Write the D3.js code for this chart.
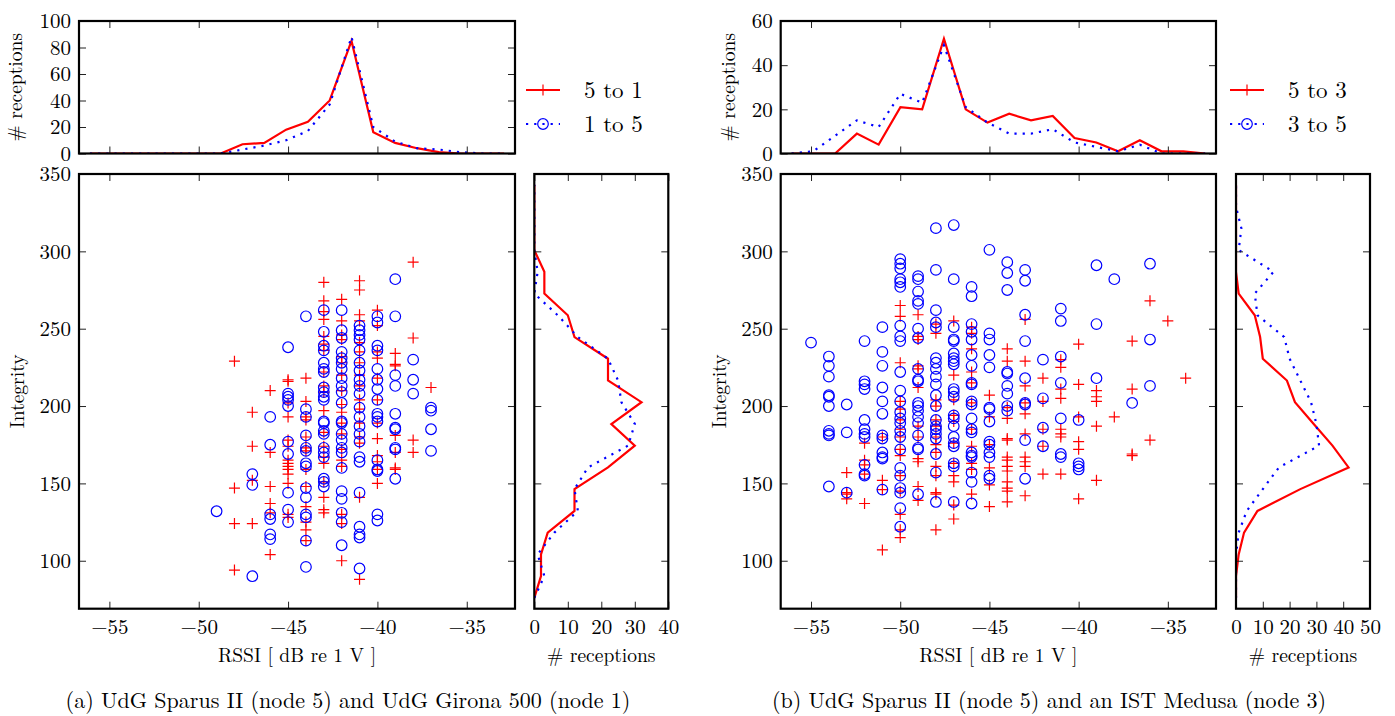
<!DOCTYPE html>
<html>
<head>
<meta charset="utf-8">
<script src="https://cdn.jsdelivr.net/npm/d3@7"></script>
<style>
  body { margin: 0; background: #fff; }
  text { font-family: "Latin Modern Roman", "Liberation Serif", serif; fill: #000; }
</style>
</head>
<body>
<svg id="fig" width="1395" height="716"></svg>
<script>
// ---- data ----
const rssiDomain = [-56.7, -32.3];
const integrityDomain = [69, 350];
const rssiTicks = [-55, -50, -45, -40, -35];
const integrityTicks = [100, 150, 200, 250, 300, 350];

// histogram bin centres (20 bins over each axis range)
const rssiBins = [-56.09, -54.87, -53.65, -52.43, -51.21, -49.99, -48.77, -47.55, -46.33, -45.11,
                  -43.89, -42.67, -41.45, -40.23, -39.01, -37.79, -36.57, -35.35, -34.13, -32.91];
const integrityBins = [76.0, 90.1, 104.1, 118.2, 132.2, 146.3, 160.3, 174.4, 188.4, 202.5,
                       216.5, 230.6, 244.6, 258.7, 272.7, 286.8, 300.8, 314.9, 328.9, 343.0];

// panel (a): 5 -> 1 (red) and 1 -> 5 (blue)
const histRssiA_5to1 = [0, 0, 0, 0, 0, 0, 0, 7, 8, 18, 24, 40, 85, 16, 8, 4, 1, 0, 0, 0];
const histRssiA_1to5 = [0, 0, 0, 0, 0, 0, 0, 3, 6, 10, 17, 37, 88, 20, 9, 4, 3, 1, 0, 0];
const histIntA_5to1 = [0, 2, 2, 4, 12, 12, 22, 30, 23, 32, 22, 22, 12, 10, 3, 3, 0, 0, 0, 0];
const histIntA_1to5 = [0, 3, 1, 6, 13, 12, 16, 28, 30, 26, 25, 22, 13, 7, 0, 1, 0, 0, 0, 0];

// scatter columns: [RSSI, [integrity values]]
const scatterA_5to1 = [
  [-48, [229, 147, 124, 94]],
  [-47, [196, 174, 152, 124]],
  [-46, [210, 170, 148, 137, 131, 104]],
  [-45, [217, 216, 202, 193, 178, 174, 165, 163, 161, 159, 156, 150, 130, 128]],
  [-44, [218, 203, 193, 191, 180, 173, 171, 159, 148, 135, 125, 120, 113]],
  [-43, [280, 268, 261, 256, 245, 240, 236, 222, 213, 209, 197, 183, 174, 167, 163, 151, 141, 133, 131]],
  [-42, [269, 255, 246, 243, 232, 228, 220, 210, 201, 196, 189, 182, 172, 165, 161, 130, 124, 100]],
  [-41, [281, 275, 259, 255, 241, 235, 228, 220, 213, 204, 198, 189, 180, 176, 141, 88]],
  [-40, [262, 252, 235, 231, 218, 204, 189, 179, 168, 164, 159, 150]],
  [-39, [234, 227, 226, 181, 170, 160, 159]],
  [-38, [293, 244, 178, 170]],
  [-37, [212]]
];
const scatterA_1to5 = [
  [-49, [132]],
  [-47, [156, 149, 90]],
  [-46, [193, 175, 130, 127, 117, 114]],
  [-45, [238, 208, 206, 204, 200, 177, 169, 144, 133, 125]],
  [-44, [258, 198, 193, 181, 173, 171, 163, 161, 147, 141, 130, 128, 113, 96]],
  [-43, [262, 248, 239, 236, 228, 224, 222, 212, 209, 206, 204, 190, 189, 184, 182, 173, 170, 167, 153, 151, 148]],
  [-42, [262, 249, 244, 235, 231, 228, 224, 218, 213, 209, 202, 190, 189, 182, 178, 173, 170, 160, 145, 140, 131, 125, 110]],
  [-41, [252, 249, 246, 243, 236, 228, 223, 217, 213, 208, 199, 193, 187, 182, 177, 167, 164, 144, 122, 117, 115, 95]],
  [-40, [258, 254, 239, 236, 224, 217, 211, 204, 195, 193, 190, 165, 159, 158, 130, 126]],
  [-39, [282, 258, 220, 213, 195, 186, 185, 173, 172, 153]],
  [-38, [230, 217, 208]],
  [-37, [199, 197, 185, 171]]
];

// panel (b): 5 -> 3 (red) and 3 -> 5 (blue)
const histRssiB_5to3 = [0, 0, 0, 9, 4, 21, 20, 52, 20, 14, 18, 15, 17, 7, 5, 1, 6, 1, 1, 0];
const histRssiB_3to5 = [0, 1, 8, 15, 12, 27, 23, 49, 21, 14, 9, 9, 11, 5, 3, 1, 4, 0, 0, 0];
const histIntB_5to3 = [0, 0, 1, 3, 8, 24, 42, 36, 29, 22, 19, 10, 9, 7, 1, 0, 0, 0, 0, 0];
const histIntB_3to5 = [0, 0, 0, 1, 4, 10, 16, 31, 30, 28, 24, 20, 18, 8, 7, 14, 1, 2, 0, 0];

const scatterB_5to3 = [
  [-53, [157, 144, 143, 140]],
  [-52, [176, 165, 162, 156, 137]],
  [-51, [180, 152, 146, 107]],
  [-50, [265, 258, 228, 203, 198, 191, 185, 180, 172, 168, 155, 145, 130, 120, 115]],
  [-49, [259, 245, 243, 226, 224, 212, 187, 180, 166, 164, 148, 139]],
  [-48, [253, 247, 204, 200, 191, 187, 180, 175, 170, 161, 155, 144, 143, 120]],
  [-47, [255, 220, 204, 194, 190, 176, 163, 155, 151, 136, 127]],
  [-46, [251, 247, 237, 222, 215, 202, 185, 174, 163, 159, 143]],
  [-45, [207, 193, 175, 160, 149, 135]],
  [-44, [237, 229, 199, 192, 179, 178, 167, 165, 161, 158, 151, 147, 145, 138]],
  [-43, [256, 229, 213, 202, 195, 182, 167, 164, 161, 142]],
  [-42, [218, 203, 185, 174, 156]],
  [-41, [230, 225, 211, 205, 185, 182, 180, 156]],
  [-40, [240, 214, 193, 177, 172, 140]],
  [-39, [210, 206, 203, 187, 152]],
  [-38, [193]],
  [-37, [242, 211, 169, 168]],
  [-36, [268, 178]],
  [-35, [255]],
  [-34, [218]]
];
const scatterB_3to5 = [
  [-55, [241]],
  [-54, [232, 226, 219, 207, 206, 200, 184, 182, 181, 148]],
  [-53, [201, 183, 144]],
  [-52, [242, 216, 214, 211, 191, 185, 182, 180, 162, 156, 155]],
  [-51, [251, 235, 226, 212, 203, 195, 181, 179, 170, 167, 166, 146]],
  [-50, [295, 292, 289, 282, 280, 277, 252, 245, 242, 222, 210, 203, 196, 192, 189, 184, 180, 172, 160, 155, 147, 144, 134, 122]],
  [-49, [284, 282, 274, 268, 266, 250, 244, 224, 217, 216, 202, 200, 197, 193, 189, 181, 173, 172, 143]],
  [-48, [315, 288, 262, 254, 251, 231, 228, 224, 219, 214, 207, 200, 191, 187, 185, 182, 179, 169, 157, 138]],
  [-47, [317, 282, 251, 243, 242, 234, 231, 229, 227, 211, 209, 206, 194, 192, 187, 180, 176, 174, 163, 161, 138]],
  [-46, [277, 271, 253, 248, 243, 233, 226, 215, 214, 203, 201, 192, 185, 183, 170, 168, 167, 157, 151, 137]],
  [-45, [301, 247, 243, 233, 225, 199, 198, 190, 177, 175, 170, 167, 155, 153]],
  [-44, [293, 286, 275, 222, 221, 213, 208, 200, 197]],
  [-43, [288, 281, 259, 242, 218, 202, 201, 178, 153]],
  [-42, [230, 205, 186, 174]],
  [-41, [263, 255, 232, 215, 192, 169, 167]],
  [-40, [191, 163, 161, 159]],
  [-39, [291, 253, 218]],
  [-38, [282]],
  [-37, [202]],
  [-36, [292, 243, 213]]
];

const legendA = ['5 to 1', '1 to 5'];
const legendB = ['5 to 3', '3 to 5'];
const captionA = '(a) UdG Sparus II (node 5) and UdG Girona 500 (node 1)';
const captionB = '(b) UdG Sparus II (node 5) and an IST Medusa (node 3)';

// ---- drawing ----
const RED = '#ff0000';
const BLUE = '#0000ff';
const svg = d3.select('#fig');

const tickLen = 7;
const tickFont = 21;
const labelFont = 19.5;

function styleAxis(g) {
    g.select('.domain').remove();
    g.selectAll('.tick line').attr('stroke', '#222').attr('stroke-width', 1);
    g.selectAll('.tick text')
        .attr('font-size', tickFont)
        .attr('font-family', '"Latin Modern Roman", "Liberation Serif", serif')
        .attr('fill', '#000');
}

// frame with inward ticks on all four sides
function boxAxes(g, x, y, w, h, xTicks, yTicks, xLabels, yLabels) {
    const fmt = d3.format('d');
    g.append('g').attr('transform', `translate(0,${h})`)
        .call(d3.axisBottom(x).tickValues(xTicks).tickSizeInner(-tickLen).tickSizeOuter(0)
            .tickPadding(10).tickFormat(xLabels ? fmt : ''))
        .call(styleAxis);
    g.append('g')
        .call(d3.axisTop(x).tickValues(xTicks).tickSizeInner(-tickLen).tickSizeOuter(0).tickFormat(''))
        .call(styleAxis);
    g.append('g')
        .call(d3.axisLeft(y).tickValues(yTicks).tickSizeInner(-tickLen).tickSizeOuter(0)
            .tickPadding(8).tickFormat(yLabels ? fmt : ''))
        .call(styleAxis);
    g.append('g').attr('transform', `translate(${w},0)`)
        .call(d3.axisRight(y).tickValues(yTicks).tickSizeInner(-tickLen).tickSizeOuter(0).tickFormat(''))
        .call(styleAxis);
}

function frame(g, w, h) {
    g.append('rect').attr('width', w).attr('height', h)
        .attr('fill', 'none').attr('stroke', '#000').attr('stroke-width', 2.2);
}

function plusPath(s) { return `M${-s},0H${s}M0,${-s}V${s}`; }

function drawPanel(p) {
    const W = p.x1 - p.x0;
    const H = 608.7 - 174;
    const topY0 = 21, topY1 = 153.5;
    const sideX0 = p.x1 + p.gap, sideX1 = sideX0 + 134;

    const x = d3.scaleLinear().domain(rssiDomain).range([0, W]);
    const y = d3.scaleLinear().domain(integrityDomain).range([H, 0]);

    // --- top histogram ---
    const top = svg.append('g').attr('transform', `translate(${p.x0},${topY0})`);
    const topH = topY1 - topY0;
    const yc = d3.scaleLinear().domain([0, p.topMax]).range([topH, 0]);
    const clipTop = 'clip-top-' + p.id;
    top.append('clipPath').attr('id', clipTop).append('rect').attr('width', W).attr('height', topH);
    const lineTop = d3.line().x((d, i) => x(rssiBins[i])).y(d => yc(d));
    top.append('path').datum(p.histRssiRed).attr('d', lineTop).attr('clip-path', `url(#${clipTop})`)
        .attr('fill', 'none').attr('stroke', RED).attr('stroke-width', 2.2);
    top.append('path').datum(p.histRssiBlue).attr('d', lineTop).attr('clip-path', `url(#${clipTop})`)
        .attr('fill', 'none').attr('stroke', BLUE).attr('stroke-width', 2.2).attr('stroke-dasharray', '2.2,6');
    boxAxes(top, x, yc, W, topH, rssiTicks, d3.range(0, p.topMax + 1, 20), false, true);
    frame(top, W, topH);
    top.append('text')
        .attr('transform', `translate(${-p.topLabelOff},${topH / 2}) rotate(-90)`)
        .attr('text-anchor', 'middle').attr('font-size', labelFont)
        .text('# receptions');

    // --- scatter ---
    const sc = svg.append('g').attr('transform', `translate(${p.x0},174)`);
    const redPts = p.scatterRed.flatMap(([r, vals]) => vals.map(v => [r, v]));
    const bluePts = p.scatterBlue.flatMap(([r, vals]) => vals.map(v => [r, v]));
    sc.selectAll('path.plus').data(redPts).enter().append('path')
        .attr('class', 'plus')
        .attr('d', plusPath(5.5))
        .attr('transform', d => `translate(${x(d[0])},${y(d[1])})`)
        .attr('stroke', RED).attr('stroke-width', 1.2).attr('fill', 'none');
    sc.selectAll('circle.pt').data(bluePts).enter().append('circle')
        .attr('class', 'pt')
        .attr('cx', d => x(d[0])).attr('cy', d => y(d[1])).attr('r', 5.3)
        .attr('stroke', BLUE).attr('stroke-width', 1.2).attr('fill', 'none');
    boxAxes(sc, x, y, W, H, rssiTicks, integrityTicks, true, true);
    frame(sc, W, H);
    sc.append('text')
        .attr('transform', `translate(${-p.intLabelOff},${H / 2}) rotate(-90)`)
        .attr('text-anchor', 'middle').attr('font-size', labelFont)
        .text('Integrity');
    sc.append('text').attr('x', W / 2).attr('y', H + 53)
        .attr('text-anchor', 'middle').attr('font-size', labelFont)
        .text('RSSI [ dB re 1 V ]');

    // --- side histogram ---
    const side = svg.append('g').attr('transform', `translate(${sideX0},174)`);
    const sideW = sideX1 - sideX0;
    const xc = d3.scaleLinear().domain([0, p.sideMax]).range([0, sideW]);
    const clipSide = 'clip-side-' + p.id;
    side.append('clipPath').attr('id', clipSide).append('rect').attr('width', sideW).attr('height', H);
    const lineSide = d3.line().x(d => xc(d)).y((d, i) => y(integrityBins[i]));
    side.append('path').datum(p.histIntRed).attr('d', lineSide).attr('clip-path', `url(#${clipSide})`)
        .attr('fill', 'none').attr('stroke', RED).attr('stroke-width', 2.2);
    side.append('path').datum(p.histIntBlue).attr('d', lineSide).attr('clip-path', `url(#${clipSide})`)
        .attr('fill', 'none').attr('stroke', BLUE).attr('stroke-width', 2.2).attr('stroke-dasharray', '2.2,6');
    boxAxes(side, xc, y, sideW, H, d3.range(0, p.sideMax + 1, 10), integrityTicks.slice(0, 5), true, false);
    frame(side, sideW, H);
    side.append('text').attr('x', sideW / 2).attr('y', H + 53)
        .attr('text-anchor', 'middle').attr('font-size', labelFont)
        .text('# receptions');

    // --- legend ---
    const lg = svg.append('g').attr('transform', `translate(${p.x1 + p.legendOff},0)`);
    const rows = [
        {y: 90, color: RED, dash: null, label: p.legend[0], marker: 'plus'},
        {y: 124, color: BLUE, dash: '2.2,6', label: p.legend[1], marker: 'circle'}
    ];
    rows.forEach(r => {
        lg.append('line').attr('x1', 0).attr('x2', 34).attr('y1', r.y).attr('y2', r.y)
            .attr('stroke', r.color).attr('stroke-width', 2.2)
            .attr('stroke-dasharray', r.dash);
        if (r.marker === 'plus') {
            lg.append('path').attr('d', plusPath(5.5)).attr('transform', `translate(17,${r.y})`)
                .attr('stroke', r.color).attr('stroke-width', 1.2);
        } else {
            lg.append('circle').attr('cx', 17).attr('cy', r.y).attr('r', 5.3)
                .attr('stroke', r.color).attr('stroke-width', 1.2).attr('fill', 'none');
        }
        lg.append('text').attr('x', 58).attr('y', r.y + 8).attr('font-size', 23).text(r.label);
    });

    // --- caption ---
    svg.append('text').attr('x', p.captionX).attr('y', 708)
        .attr('text-anchor', 'middle').attr('font-size', 22)
        .text(p.caption);
}

drawPanel({
    id: 'a', x0: 79, x1: 515, gap: 19.3, topMax: 100, sideMax: 40,
    histRssiRed: histRssiA_5to1, histRssiBlue: histRssiA_1to5,
    histIntRed: histIntA_5to1, histIntBlue: histIntA_1to5,
    scatterRed: scatterA_5to1, scatterBlue: scatterA_1to5,
    legend: legendA, legendOff: 11, caption: captionA, captionX: 348,
    topLabelOff: 57, intLabelOff: 55
});
drawPanel({
    id: 'b', x0: 780.7, x1: 1216, gap: 20, topMax: 60, sideMax: 50,
    histRssiRed: histRssiB_5to3, histRssiBlue: histRssiB_3to5,
    histIntRed: histIntB_5to3, histIntBlue: histIntB_3to5,
    scatterRed: scatterB_5to3, scatterBlue: scatterB_3to5,
    legend: legendB, legendOff: 14, caption: captionB, captionX: 1049,
    topLabelOff: 46, intLabelOff: 55
});
</script>
</body>
</html>
